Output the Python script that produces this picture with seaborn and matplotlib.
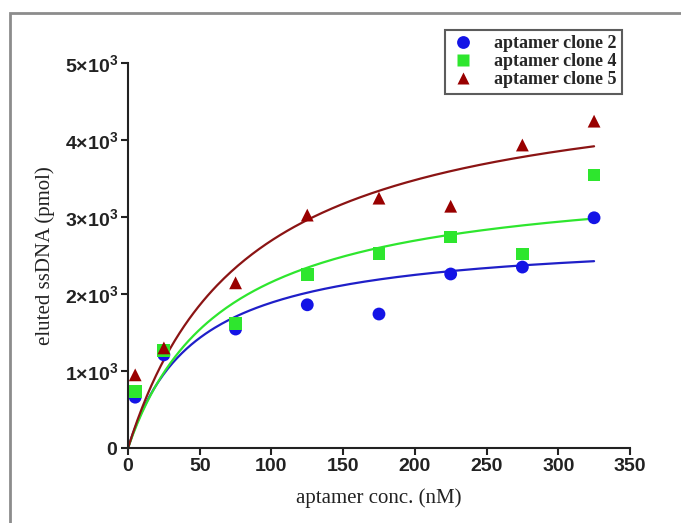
import seaborn as sns
import matplotlib.pyplot as plt
import matplotlib.patches as mpatches
import numpy as np
import pandas as pd

conc = [5, 25, 75, 125, 175, 225, 275, 325]
clone2 = [660, 1210, 1545, 1860, 1740, 2260, 2350, 2990]
clone4 = [730, 1270, 1620, 2250, 2530, 2740, 2520, 3545]
clone5 = [950, 1300, 2145, 3025, 3245, 3140, 3935, 4245]
names = ['aptamer clone 2', 'aptamer clone 4', 'aptamer clone 5']
y_ticks = [0, 1000, 2000, 3000, 4000, 5000]
y_labels = [r'$\mathbf{0}$', r'$\mathbf{1{\times}10^3}$', r'$\mathbf{2{\times}10^3}$',
            r'$\mathbf{3{\times}10^3}$', r'$\mathbf{4{\times}10^3}$', r'$\mathbf{5{\times}10^3}$']
x_ticks = [0, 50, 100, 150, 200, 250, 300, 350]

dot_colors = {'aptamer clone 2': '#1414e6', 'aptamer clone 4': '#2ee62e', 'aptamer clone 5': '#990000'}
line_colors = {'aptamer clone 2': '#1f1fc8', 'aptamer clone 4': '#2ee62e', 'aptamer clone 5': '#8b1414'}
marks = {'aptamer clone 2': 'o', 'aptamer clone 4': 's', 'aptamer clone 5': '^'}

df = pd.DataFrame({'conc': conc * 3,
                   'ssdna': clone2 + clone4 + clone5,
                   'clone': [n for n in names for _ in conc]})


# one site binding fit  y = Bmax*x/(Kd+x), grid over Kd, least squares for Bmax
def fit_binding(x, y):
    x = np.asarray(x, float)
    y = np.asarray(y, float)
    best = None
    for kd in np.linspace(1, 300, 3000):
        g = x / (kd + x)
        bmax = (g @ y) / (g @ g)
        err = ((y - bmax * g) ** 2).sum()
        if best is None or err < best[0]:
            best = (err, bmax, kd)
    return best[1], best[2]


xs = np.linspace(0, 325, 200)
curves = []
for n, vals in zip(names, [clone2, clone4, clone5]):
    bmax, kd = fit_binding(conc, vals)
    curves.append(pd.DataFrame({'conc': xs, 'ssdna': bmax * xs / (kd + xs), 'clone': n}))
curve_df = pd.concat(curves)

sns.set_style('ticks')
plt.rcParams['mathtext.fontset'] = 'custom'
plt.rcParams['mathtext.bf'] = 'Liberation Sans:bold'
plt.rcParams['mathtext.rm'] = 'Liberation Sans'

fig = plt.figure(figsize=(6.81, 5.23), dpi=100)
ax = fig.add_axes([0.188, 0.1434, 0.737, 0.7361])

sns.lineplot(data=curve_df, x='conc', y='ssdna', hue='clone', palette=line_colors,
             linewidth=1.6, legend=False, ax=ax)
sns.scatterplot(data=df, x='conc', y='ssdna', hue='clone', style='clone',
                palette=dot_colors, markers=marks, s=85, edgecolor='none', ax=ax, zorder=5)

ax.set_xlim(0, 350)
ax.set_ylim(0, 5000)
ax.set_xticks(x_ticks)
ax.set_yticks(y_ticks)
ax.set_yticklabels(y_labels)
for lab in ax.get_xticklabels() + ax.get_yticklabels():
    lab.set_fontfamily('Liberation Sans')
    lab.set_fontweight('bold')
    lab.set_fontsize(14)
    lab.set_color('#222222')
ax.tick_params(direction='out', length=5, width=1.5, color='#222222', pad=2)
for side in ['top', 'right']:
    ax.spines[side].set_visible(False)
for side in ['left', 'bottom']:
    ax.spines[side].set_linewidth(1.5)
    ax.spines[side].set_color('#222222')

ax.set_xlabel('aptamer conc. (nM)', fontfamily='Liberation Serif', fontsize=15, color='#222222', labelpad=10)
ax.set_ylabel('eluted ssDNA (pmol)', fontfamily='Liberation Serif', fontsize=15, color='#222222', labelpad=7)

handles, labels = ax.get_legend_handles_labels()
ax.legend(handles, labels, loc='upper right', bbox_to_anchor=(622 / 681, 1 - 30 / 523),
          bbox_transform=fig.transFigure, frameon=True, fancybox=False, edgecolor='#333333',
          prop={'family': 'Liberation Serif', 'weight': 'bold', 'size': 13},
          handlelength=1.4, handletextpad=1.0, borderpad=0.3, labelspacing=0.05,
          borderaxespad=0, markerscale=1.0)
ax.get_legend().get_frame().set_linewidth(1.5)

fig.patches.append(mpatches.Rectangle((10 / 681, -0.1), 1.2, 1 - 13 / 523 + 0.1,
                                      transform=fig.transFigure, fill=False,
                                      edgecolor='#8c8c8c', linewidth=2))

fig.savefig('out.png', dpi=100)
